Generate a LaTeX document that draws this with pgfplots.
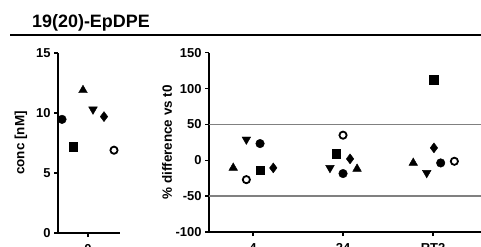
\documentclass[border=0pt]{standalone}
\usepackage{pgfplots}
\pgfplotsset{compat=1.18}
\usepackage{fontspec}
\setmainfont{Liberation Sans}[BoldFont={Liberation Sans Bold}]
\begin{document}
\begin{tikzpicture}[x=1bp,y=1bp]
\path[use as bounding box, clip] (0,0) rectangle (481,246);
\node[anchor=base west, inner sep=0pt, font=\fontsize{18}{21}\selectfont\bfseries] at (32,219) {19(20)-EpDPE};
\draw[line width=2bp] (10,211) -- (481,211);
\pgfplotsset{
  mystyle/.style={
    scale only axis,
    axis x line*=bottom, axis y line*=left,
    axis line style={line width=1.5bp,-},
    tick style={line width=1.3bp,black},
    tick align=outside,
    major tick length=4bp,
    /pgf/number format/assume math mode=true,
    tick label style={font=\fontsize{13}{15}\selectfont\bfseries},
    xticklabel style={yshift=-4bp},
    label style={font=\fontsize{13.5}{15}\selectfont\bfseries},
    clip=false,
  },
  m1/.style={only marks, mark=*, mark size=4.3bp, black},
  m2/.style={only marks, mark=square*, mark size=4.3bp, black},
  m3/.style={only marks, mark=triangle*, mark size=5bp, black},
  m4/.style={only marks, mark=triangle*, mark options={rotate=180}, mark size=5bp, black},
  m5/.style={only marks, mark=diamond*, mark size=5bp, black},
  m6/.style={only marks, mark=o, mark size=3.6bp, black, mark options={line width=1.8bp, fill=white}},
}
\begin{axis}[mystyle,
  at={(58bp,13bp)}, anchor=south west,
  width=62bp, height=180bp,
  xmin=-30, xmax=32, ymin=0, ymax=15,
  xtick={0}, xticklabels={0},
  ytick={0,5,10,15},
  ylabel={conc [nM]},
  ylabel style={at={(axis description cs:0,0.5)}, anchor=center, yshift=37bp},
]
\addplot[m1] coordinates {(-26,9.47)};
\addplot[m2] coordinates {(-15,7.2)};
\addplot[m3] coordinates {(-5,11.9)};
\addplot[m4] coordinates {(5,10.3)};
\addplot[m5] coordinates {(16,9.7)};
\addplot[m6] coordinates {(26,6.9)};
\end{axis}
\begin{axis}[mystyle,
  at={(209bp,14bp)}, anchor=south west,
  width=272bp, height=179.3bp,
  xmin=-0.489, xmax=2.533, ymin=-100, ymax=150,
  xtick={0,1,2}, xticklabels={4,24,RT2},
  ytick={-100,-50,0,50,100,150},
  ylabel={\% difference vs t0},
  ylabel style={at={(axis description cs:0,0.5)}, anchor=center, yshift=42bp},
]
\addplot[gray, line width=1.5bp, no marks] coordinates {(-0.489,50) (2.533,50)};
\addplot[gray, line width=1.5bp, no marks] coordinates {(-0.489,-50) (2.533,-50)};
\addplot[m1] coordinates {(0.078,23.3) (1.0,-18.5) (2.085,-3.7)};
\addplot[m2] coordinates {(0.078,-14) (0.926,9.3) (2.01,112.6)};
\addplot[m3] coordinates {(-0.22,-10.6) (1.156,-12) (1.78,-3.7)};
\addplot[m4] coordinates {(-0.074,29) (0.855,-10.6) (1.93,-17.6)};
\addplot[m5] coordinates {(0.225,-10.6) (1.078,2) (2.01,17.3)};
\addplot[m6] coordinates {(-0.074,-27) (1.0,35) (2.237,-1.4)};
\end{axis}
\end{tikzpicture}
\end{document}
